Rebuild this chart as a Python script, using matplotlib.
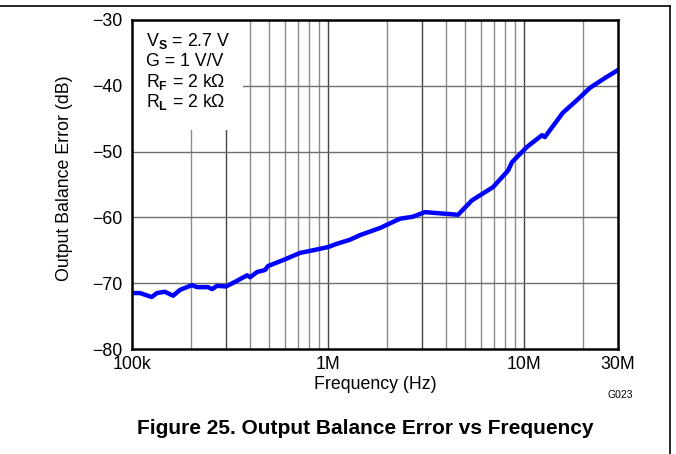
import matplotlib
matplotlib.use("Agg")
import matplotlib.pyplot as plt
from matplotlib.lines import Line2D
from matplotlib.patches import Rectangle
from matplotlib.ticker import FixedLocator, NullFormatter, NullLocator

plt.rcParams['font.family'] = ['Liberation Sans', 'DejaVu Sans']
plt.rcParams['mathtext.fontset'] = 'custom'
plt.rcParams['mathtext.rm'] = 'Liberation Sans'
plt.rcParams['mathtext.bf'] = 'Liberation Sans:bold'

# frequency (Hz) and balance error (dB)
freq = [100e3, 110e3, 126e3, 134e3, 147e3, 162e3, 176e3, 202e3, 215e3, 244e3,
        256e3, 271e3, 301e3, 335e3, 386e3, 400e3, 434e3, 476e3, 493e3, 588e3,
        718e3, 837e3, 1.0e6, 1.11e6, 1.29e6, 1.45e6, 1.84e6, 2.32e6, 2.70e6,
        3.11e6, 4.59e6, 5.41e6, 6.92e6, 8.25e6, 8.65e6, 10.3e6, 12.3e6, 12.7e6,
        15.7e6, 18.5e6, 21.6e6, 25.8e6, 30e6]
err_db = [-71.5, -71.5, -72.1, -71.5, -71.3, -71.9, -71.0, -70.3, -70.6, -70.6,
          -70.9, -70.4, -70.5, -69.8, -68.8, -69.1, -68.3, -68.0, -67.4, -66.5,
          -65.4, -65.0, -64.5, -64.0, -63.4, -62.7, -61.6, -60.2, -59.9,
          -59.2, -59.6, -57.4, -55.4, -52.9, -51.6, -49.3, -47.5, -47.8,
          -44.1, -42.2, -40.3, -38.8, -37.6]

x_ticks = [1e5, 1e6, 1e7, 3e7]
x_labels = ['100k', '1M', '10M', '30M']
y_ticks = [-80, -70, -60, -50, -40, -30]
conditions = [r'V$_{\mathbf{S}}$ = 2.7 V', 'G = 1 V/V',
              r'R$_{\mathbf{F}}$ = 2 k$\Omega$', r'R$_{\mathbf{L}}$ = 2 k$\Omega$']

FS = 12.8

fig = plt.figure(figsize=(6.76, 4.54), dpi=100)
ax = fig.add_axes([132/676, 1-349/454, 486/676, 329/454])

ax.set_xscale('log')
ax.set_xlim(1e5, 3e7)
ax.set_ylim(-80, -30)

# grid lines
minor = [2e5, 3e5, 4e5, 5e5, 6e5, 7e5, 8e5, 9e5, 1e6, 2e6, 3e6, 4e6, 5e6,
         6e6, 7e6, 8e6, 9e6, 1e7, 2e7]
dark = [3e5, 1e6, 3e6, 1e7]
for f in minor:
    ax.axvline(f, color='#444444' if f in dark else '#8c8c8c', lw=1.0, zorder=1)
for v in y_ticks[1:-1]:
    ax.axhline(v, color='#6e6e6e', lw=1.0, zorder=1)

# white box behind the conditions text
ax.add_patch(Rectangle((0, 1-110/329), 111/486, 110/329, transform=ax.transAxes,
                       facecolor='white', edgecolor='none', zorder=2))

ax.plot(freq, err_db, color='#0000ff', lw=3.2, zorder=3, solid_capstyle='round')

ax.xaxis.set_major_locator(FixedLocator(x_ticks))
ax.set_xticklabels(x_labels)
ax.xaxis.set_minor_locator(NullLocator())
ax.xaxis.set_minor_formatter(NullFormatter())
ax.set_yticks(y_ticks)
ax.set_yticklabels([str(v).replace('-', '\u2212') for v in y_ticks])
ax.tick_params(length=0, labelsize=FS)
ax.tick_params(axis='y', pad=7)
ax.tick_params(axis='x', pad=5)
for s in ax.spines.values():
    s.set_linewidth(1.8)
    s.set_zorder(5)

ax.set_xlabel('Frequency (Hz)', fontsize=FS)
ax.set_ylabel('Output Balance Error (dB)', fontsize=FS)
ax.xaxis.set_label_coords(0.5, -(376-349)/329)
ax.yaxis.set_label_coords(-(132-73)/486, 0.52)

for i, t in enumerate(conditions):
    ax.text(14/486, 1-(26+20.5*i)/329, t, transform=ax.transAxes, fontsize=FS,
            ha='left', va='baseline', zorder=4)

fig.text(620/676, 1-395/454, 'G023', fontsize=7.5, ha='center', va='center')
fig.text(365/676, 1-428/454, 'Figure 25. Output Balance Error vs Frequency',
         fontsize=15, fontweight='bold', ha='center', va='center')

# page frame lines
fig.add_artist(Line2D([0, 670/676], [1-6/454, 1-6/454], color='black', lw=1.2))
fig.add_artist(Line2D([670/676, 670/676], [1-6/454, 0], color='black', lw=1.2))

fig.savefig('out.png', dpi=100)
